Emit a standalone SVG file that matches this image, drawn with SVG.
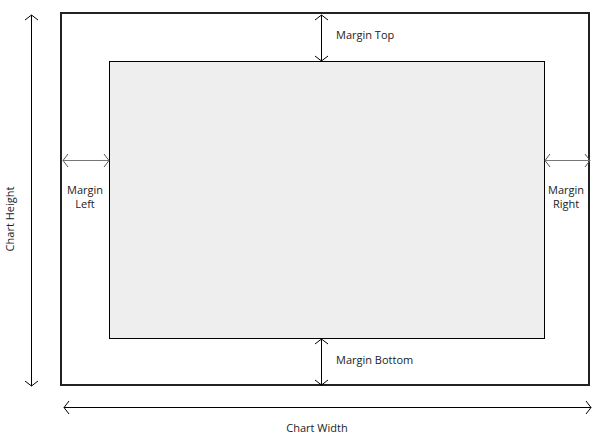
<svg xmlns="http://www.w3.org/2000/svg" width="600" height="439" viewBox="0 0 600 439">
<style>
text{font-family:"Open Sans","Noto Sans",sans-serif;font-size:11px;fill:#222}
.c{stroke:#000;stroke-width:1;fill:none}
.g{stroke:#777;stroke-width:1.2;fill:none}
</style>
<defs>
<marker id="a" markerUnits="userSpaceOnUse" viewBox="-6 -8 8 16" refX="0" refY="0" markerWidth="8" markerHeight="16" orient="auto-start-reverse">
<path d="M-5,-6.5 L0,0 L-5,6.5" fill="none" stroke="#000" stroke-width="1"/>
</marker>
<marker id="ag" markerUnits="userSpaceOnUse" viewBox="-6 -8 8 16" refX="0" refY="0" markerWidth="8" markerHeight="16" orient="auto-start-reverse">
<path d="M-5,-6.5 L0,0 L-5,6.5" fill="none" stroke="#555" stroke-width="1"/>
</marker>
</defs>
<rect width="600" height="439" fill="#fff"/>
<g id="outer"><rect x="61" y="13" width="528" height="372" fill="none" stroke="#222" stroke-width="2"/></g>
<g id="inner"><rect x="109.5" y="61.5" width="435" height="277" fill="#eee" stroke="#000" stroke-width="1"/></g>
<g id="connectors">
<line class="c" x1="31.5" y1="15" x2="31.5" y2="386" marker-start="url(#a)" marker-end="url(#a)"/>
<line class="c" x1="64" y1="407.5" x2="591" y2="407.5" marker-start="url(#a)" marker-end="url(#a)"/>
<line class="c" x1="321.5" y1="15" x2="321.5" y2="61" marker-start="url(#a)" marker-end="url(#a)"/>
<line class="c" x1="321.5" y1="339" x2="321.5" y2="385" marker-start="url(#a)" marker-end="url(#a)"/>
<line class="g" x1="63" y1="160.5" x2="109" y2="160.5" marker-start="url(#ag)" marker-end="url(#ag)"/>
<line class="g" x1="545" y1="160.5" x2="590" y2="160.5" marker-start="url(#ag)" marker-end="url(#ag)"/>
</g>
<g id="labels">
<text x="336" y="39">Margin Top</text>
<text x="336" y="364">Margin Bottom</text>
<text x="85" y="194" text-anchor="middle">Margin</text>
<text x="85" y="208" text-anchor="middle">Left</text>
<text x="566" y="194" text-anchor="middle">Margin</text>
<text x="566" y="208" text-anchor="middle">Right</text>
<text x="317" y="432" text-anchor="middle">Chart Width</text>
<text transform="translate(14,219) rotate(-90)" text-anchor="middle">Chart Height</text>
</g>
</svg>
